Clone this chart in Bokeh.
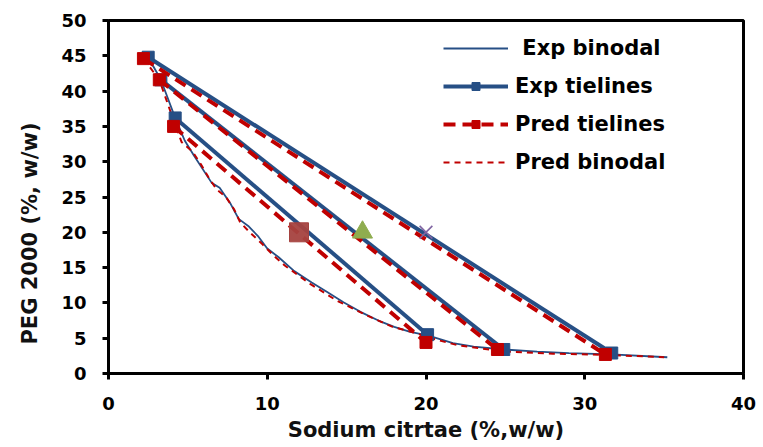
from bokeh.plotting import figure
from bokeh.models import Legend, LegendItem, Range1d, FixedTicker
from bokeh.embed import file_html
from bokeh.resources import INLINE

# Experimental binodal curve: PEG 2000 vs sodium citrate (% w/w)
exp_bin_x = [2.5, 3.3, 4.2, 4.8, 5.4, 6.5, 7.0, 7.7, 8.2, 8.8, 9.4, 10.0, 10.7,
             11.7, 12.8, 13.8, 14.8, 15.9, 17.0, 18.0, 19.0, 20.1, 21.7, 23.0,
             24.9, 27.0, 29.0, 31.7, 35.2]
exp_bin_y = [44.8, 41.6, 36.2, 33.0, 30.8, 27.0, 26.3, 24.0, 21.9, 20.9, 19.5,
             17.7, 16.5, 14.5, 12.9, 11.5, 10.1, 8.7, 7.5, 6.6, 5.9, 5.4, 4.3,
             3.8, 3.4, 3.1, 2.9, 2.7, 2.3]

# Predicted binodal curve
pred_bin_x = [2.2, 3.2, 4.0, 4.6, 5.3, 5.8, 6.3, 6.8, 7.4, 7.9, 8.3, 8.9, 9.7,
              10.4, 11.1, 12.7, 14.4, 16.3, 17.9, 19.2, 20.3, 22.0, 25.0, 28.0,
              31.3, 35.0]
pred_bin_y = [44.6, 41.6, 36.5, 32.8, 31.4, 29.7, 27.8, 26.1, 25.0, 23.3, 21.4,
              20.0, 18.3, 16.7, 15.3, 12.7, 10.3, 8.2, 6.6, 5.85, 5.0, 4.0, 3.1,
              2.8, 2.65, 2.3]

# Tie lines: top (PEG-rich) and bottom (salt-rich) phase compositions
exp_top_x = [2.5, 3.3, 4.2]
exp_top_y = [44.8, 41.6, 36.2]
exp_bot_x = [31.7, 24.9, 20.1]
exp_bot_y = [2.9, 3.4, 5.5]

pred_top_x = [2.2, 3.2, 4.1]
pred_top_y = [44.6, 41.6, 35.0]
pred_bot_x = [31.3, 24.5, 20.0]
pred_bot_y = [2.7, 3.4, 4.4]

# Overall feed compositions
feed_x = [12, 16, 20]
feed_y = [20, 20, 20]

x_ticks = [0, 10, 20, 30, 40]
y_ticks = [0, 5, 10, 15, 20, 25, 30, 35, 40, 45, 50]

BLUE = "#264F85"
RED = "#C00000"
FONT = "DejaVu Sans"

p = figure(width=763, height=447, output_backend="svg", toolbar_location=None,
           x_range=Range1d(0, 40), y_range=Range1d(0, 50),
           min_border_left=108, min_border_right=20, min_border_top=20,
           min_border_bottom=74)
p.grid.visible = False
p.outline_line_color = "black"
p.outline_line_width = 3
p.background_fill_color = "white"
p.border_fill_color = "white"

# Binodals
r_exp_bin = p.line(exp_bin_x, exp_bin_y, line_color=BLUE, line_width=1.8)
r_pred_bin = p.line(pred_bin_x, pred_bin_y, line_color=RED, line_width=2,
                    line_dash="6 5")

# Experimental tie lines
exp_lines = []
for i in range(len(exp_top_x)):
    exp_lines.append(p.line([exp_top_x[i], exp_bot_x[i]], [exp_top_y[i], exp_bot_y[i]],
                            line_color=BLUE, line_width=4))
r_exp_pts = p.scatter(exp_top_x + exp_bot_x, exp_top_y + exp_bot_y, marker="square",
                      size=12, fill_color=BLUE, line_color=BLUE)

# Predicted tie lines
pred_lines = []
for i in range(len(pred_top_x)):
    pred_lines.append(p.line([pred_top_x[i], pred_bot_x[i]], [pred_top_y[i], pred_bot_y[i]],
                             line_color=RED, line_width=4, line_dash="12 7"))
r_pred_pts = p.scatter(pred_top_x + pred_bot_x, pred_top_y + pred_bot_y, marker="square",
                       size=12, fill_color=RED, line_color=RED)

# Feed points
p.scatter([feed_x[0]], [feed_y[0]], marker="square", size=19,
          fill_color="#A5423F", line_color="#A5423F", fill_alpha=0.95)
p.scatter([feed_x[1]], [feed_y[1]], marker="triangle", size=20,
          fill_color="#8FAD4F", line_color="#8FAD4F")
p.scatter([feed_x[2]], [feed_y[2]], marker="x", size=18,
          line_color="#7F64A2", line_width=1.6)

# Axes
for ax in (p.xaxis[0], p.yaxis[0]):
    ax.axis_line_width = 3
    ax.axis_line_color = "black"
    ax.major_tick_line_width = 3
    ax.major_tick_line_color = "black"
    ax.major_tick_out = 6
    ax.major_tick_in = 0
    ax.minor_tick_line_color = None
    ax.major_label_text_font = FONT
    ax.major_label_text_font_style = "bold"
    ax.major_label_text_font_size = "18px"
    ax.major_label_text_color = "black"
    ax.axis_label_text_font = FONT
    ax.axis_label_text_font_style = "bold"
    ax.axis_label_text_font_size = "21px"
    ax.axis_label_text_color = "#111111"

p.xaxis.ticker = FixedTicker(ticks=x_ticks)
p.yaxis.ticker = FixedTicker(ticks=y_ticks)
p.xaxis.axis_label = "Sodium citrtae (%,w/w)"
p.yaxis.axis_label = "PEG 2000 (%, w/w)" + "\u00a0" * 10
p.xaxis.major_label_standoff = 17
p.xaxis.axis_label_standoff = 5
p.yaxis.major_label_standoff = 16
p.yaxis.axis_label_standoff = 16

legend = Legend(items=[
    LegendItem(label=" Exp binodal", renderers=[r_exp_bin]),
    LegendItem(label="Exp tielines", renderers=[exp_lines[0], r_exp_pts]),
    LegendItem(label="Pred tielines", renderers=[pred_lines[0], r_pred_pts]),
    LegendItem(label="Pred binodal", renderers=[r_pred_bin]),
], location=(335, 199))
legend.border_line_color = None
legend.background_fill_alpha = 0
legend.margin = 0
legend.padding = 0
legend.glyph_width = 65
legend.glyph_height = 20
legend.label_height = 20
legend.spacing = 14
legend.label_standoff = 7
legend.label_text_font = FONT
legend.label_text_font_style = "bold"
legend.label_text_font_size = "21px"
legend.label_text_color = "black"
p.add_layout(legend, "center")

open("out.html", "w").write(file_html(p, INLINE))
